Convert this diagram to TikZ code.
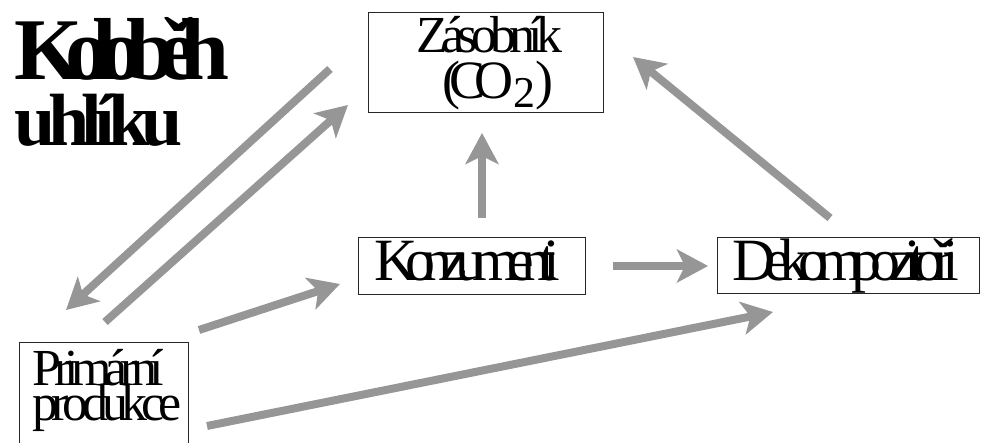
\documentclass[tikz,border=0pt]{standalone}
\usepackage{fontspec}
\setmainfont{Liberation Serif}
\usetikzlibrary{arrows.meta}
\definecolor{arrowgray}{RGB}{150,150,150}
\newcommand{\sqtext}[3]{{\fontsize{#2}{#2}\selectfont\addfontfeatures{LetterSpace=#1}#3}}
\begin{document}
\begin{tikzpicture}[x=1pt,y=-1pt,
  box/.style={draw=black!85, line width=0.9pt, inner sep=0pt, rectangle},
  lbl/.style={inner sep=0pt, anchor=base west, text=black},
  flow/.style={draw=arrowgray, line width=8pt, -{Stealth[length=31pt,width=33pt,inset=8pt]}}]
\useasboundingbox (0,0) rectangle (984,443);

% boxes
\node[box, minimum width=235pt, minimum height=100pt] (zas) at (485.5,62) {};
\node[box, minimum width=227pt, minimum height=57pt] (konz) at (471.5,265.5) {};
\node[box, minimum width=262pt, minimum height=56pt] (dek) at (848,265) {};
\node[box, minimum width=169pt, minimum height=104pt] (prim) at (103.5,394) {};

% title
\node[lbl] (t1) at (14,80) {\bfseries\sqtext{-19.5}{88}{Koloběh}};
\node[lbl] (t2) at (14,146) {\bfseries\sqtext{-10}{74}{uhlíku}};

% labels
\node[lbl] (zas1) at (416,53) {\sqtext{-13}{52}{Zásobník}};
\node[lbl] (zas2) at (442,99) {\sqtext{-20}{54}{(CO\raisebox{-9pt}{\fontsize{44}{44}\selectfont\addfontfeatures{LetterSpace=-20}2})}};
\node[lbl] (konzl) at (374,280) {\sqtext{-20.5}{60}{Konzumenti}};
\node[lbl] (dekl) at (732,280) {\sqtext{-19}{60}{Dekompozitoři}};
\node[lbl] (prim1) at (32,385) {\sqtext{-13.7}{52}{Primární}};
\node[lbl] (prim2) at (32,420) {\sqtext{-12.2}{52}{produkce}};

% arrow end points
\coordinate (a1s) at (330,69);  \coordinate (a1e) at (66,310);
\coordinate (a2s) at (105,322); \coordinate (a2e) at (348,105);
\coordinate (a3s) at (199,330); \coordinate (a3e) at (340,284);
\coordinate (a4s) at (207,426); \coordinate (a4e) at (773,312);
\coordinate (a5s) at (613,266); \coordinate (a5e) at (708,266);
\coordinate (a6s) at (482,218); \coordinate (a6e) at (482,133);
\coordinate (a7s) at (830,218); \coordinate (a7e) at (633,57);

\draw[flow] (a1s) -- (a1e);
\draw[flow] (a2s) -- (a2e);
\draw[flow] (a3s) -- (a3e);
\draw[flow] (a4s) -- (a4e);
\draw[flow] (a5s) -- (a5e);
\draw[flow] (a6s) -- (a6e);
\draw[flow] (a7s) -- (a7e);
\end{tikzpicture}
\end{document}
